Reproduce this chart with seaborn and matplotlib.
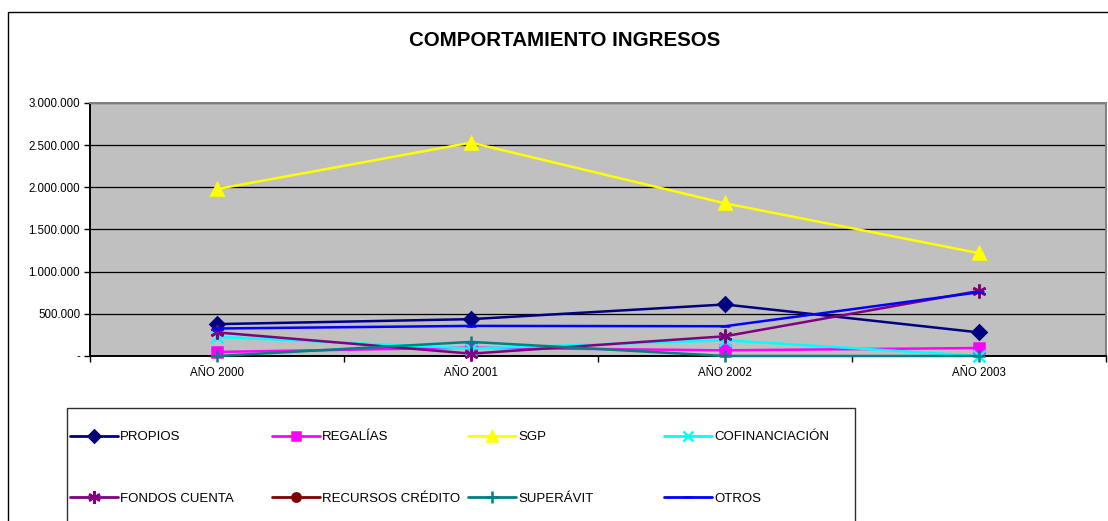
import numpy as np
import pandas as pd
import matplotlib
matplotlib.use("Agg")
import matplotlib.pyplot as plt
from matplotlib.lines import Line2D
from matplotlib.patches import Rectangle
from matplotlib.ticker import FuncFormatter, MultipleLocator
import seaborn as sns

# ---- data ----
ANIOS = ["AÑO 2000", "AÑO 2001", "AÑO 2002", "AÑO 2003"]
PROPIOS = [378000, 437000, 611000, 280000]
REGALIAS = [48000, 99000, 67000, 95000]
SGP = [1980000, 2530000, 1810000, 1220000]
COFINANCIACION = [228000, 88000, 187000, 0]
FONDOS_CUENTA = [280000, 28000, 234000, 772000]
RECURSOS_CREDITO = [np.nan, np.nan, np.nan, np.nan]
SUPERAVIT = [0, 167000, 0, 0]
OTROS = [326000, 357000, 353000, 756000]

SERIES = ["PROPIOS", "REGALÍAS", "SGP", "COFINANCIACIÓN",
          "FONDOS CUENTA", "RECURSOS CRÉDITO", "SUPERÁVIT", "OTROS"]
VALUES = [PROPIOS, REGALIAS, SGP, COFINANCIACION,
          FONDOS_CUENTA, RECURSOS_CREDITO, SUPERAVIT, OTROS]

COLORS = {"PROPIOS": "#000080", "REGALÍAS": "#FF00FF", "SGP": "#FFFF00",
          "COFINANCIACIÓN": "#00FFFF", "FONDOS CUENTA": "#800080",
          "RECURSOS CRÉDITO": "#800000", "SUPERÁVIT": "#008080",
          "OTROS": "#0000FF"}
MARKERS = {"PROPIOS": "D", "REGALÍAS": "s", "SGP": "^",
           "COFINANCIACIÓN": "x", "FONDOS CUENTA": (6, 2, 0),
           "RECURSOS CRÉDITO": "o", "SUPERÁVIT": "+", "OTROS": "_"}
MSIZE = {"PROPIOS": 7, "REGALÍAS": 7, "SGP": 8, "COFINANCIACIÓN": 8,
         "FONDOS CUENTA": 10, "RECURSOS CRÉDITO": 7, "SUPERÁVIT": 9, "OTROS": 7}

rows = []
for name, vals in zip(SERIES, VALUES):
    for i, v in enumerate(vals):
        rows.append({"serie": name, "pos": i, "valor": v})
df = pd.DataFrame(rows).dropna()

sns.set_style("white")
plt.rcParams["font.family"] = ["Liberation Sans", "DejaVu Sans"]
plt.rcParams["text.color"] = "black"
plt.rcParams["xtick.color"] = "black"
plt.rcParams["ytick.color"] = "black"

fig = plt.figure(figsize=(11.08, 5.21), dpi=100)
ax = fig.add_axes([90 / 1108, 1 - 356 / 521, 1016 / 1108, 253 / 521])
ax.set_facecolor("#C0C0C0")

for name in SERIES:
    sub = df[df["serie"] == name]
    if sub.empty:
        continue
    c = COLORS[name]
    sns.lineplot(data=sub, x="pos", y="valor", ax=ax, color=c,
                 marker=MARKERS[name], markersize=MSIZE[name],
                 markeredgecolor=c, markerfacecolor=c, markeredgewidth=1.8,
                 linewidth=1.8, clip_on=False, zorder=3, legend=False)

ax.set_xlim(-0.5, len(ANIOS) - 0.5)
ax.set_ylim(0, 3000000)
ax.set_xticks(range(len(ANIOS)))
ax.set_xticklabels(ANIOS)
ax.set_xticks(np.arange(-0.5, len(ANIOS)), minor=True)
ax.yaxis.set_major_locator(MultipleLocator(500000))
ax.yaxis.set_major_formatter(FuncFormatter(
    lambda v, p: "-" if v == 0 else f"{int(v):,}".replace(",", ".")))
ax.tick_params(axis="x", which="major", length=0, labelsize=8.3, pad=8)
ax.tick_params(axis="x", which="minor", length=4, width=1, direction="out",
               color="black", bottom=True)
ax.tick_params(axis="y", length=4, width=1, direction="out", labelsize=8.3,
               color="black", pad=3, left=True)
ax.set_xlabel("")
ax.set_ylabel("")
ax.grid(axis="y", color="black", linewidth=0.9)
ax.grid(axis="x", visible=False)
ax.set_axisbelow(True)
for side in ["left", "bottom"]:
    ax.spines[side].set_color("black")
    ax.spines[side].set_linewidth(1.4)
for side in ["top", "right"]:
    ax.spines[side].set_color("#808080")
    ax.spines[side].set_linewidth(1.4)

fig.text(565 / 1108, 1 - 40 / 521, "COMPORTAMIENTO INGRESOS",
         ha="center", va="center", fontsize=14.8, fontweight="bold",
         color="black")

# outer chart frame and legend box
fig.patches.append(Rectangle((8 / 1108, -0.05), 1.0, (521 - 12) / 521 + 0.05,
                             transform=fig.transFigure, fill=False,
                             ec="black", lw=1.0))
fig.patches.append(Rectangle((67 / 1108, -0.05), (855 - 67) / 1108,
                             (521 - 408) / 521 + 0.05,
                             transform=fig.transFigure, fill=False,
                             ec="#303030", lw=1.0))


def _handle(name):
    return Line2D([], [], color=COLORS[name], marker=MARKERS[name],
                  markersize=MSIZE[name] - 1, mec=COLORS[name],
                  mfc=COLORS[name], lw=2.0, mew=1.8)


# legend: one column block per group of two entries
col_x = [70, 272, 468, 664]
for j, x0 in enumerate(col_x):
    names = [SERIES[j], SERIES[j + 4]]
    fig.legend(handles=[_handle(n) for n in names], labels=names,
               loc="upper left", bbox_to_anchor=(x0 / 1108, 1 - 431 / 521),
               frameon=False, fontsize=9.5, handlelength=3.6,
               handletextpad=0.2, labelspacing=3.75, borderpad=0,
               borderaxespad=0)

fig.savefig("out.png", dpi=100)
